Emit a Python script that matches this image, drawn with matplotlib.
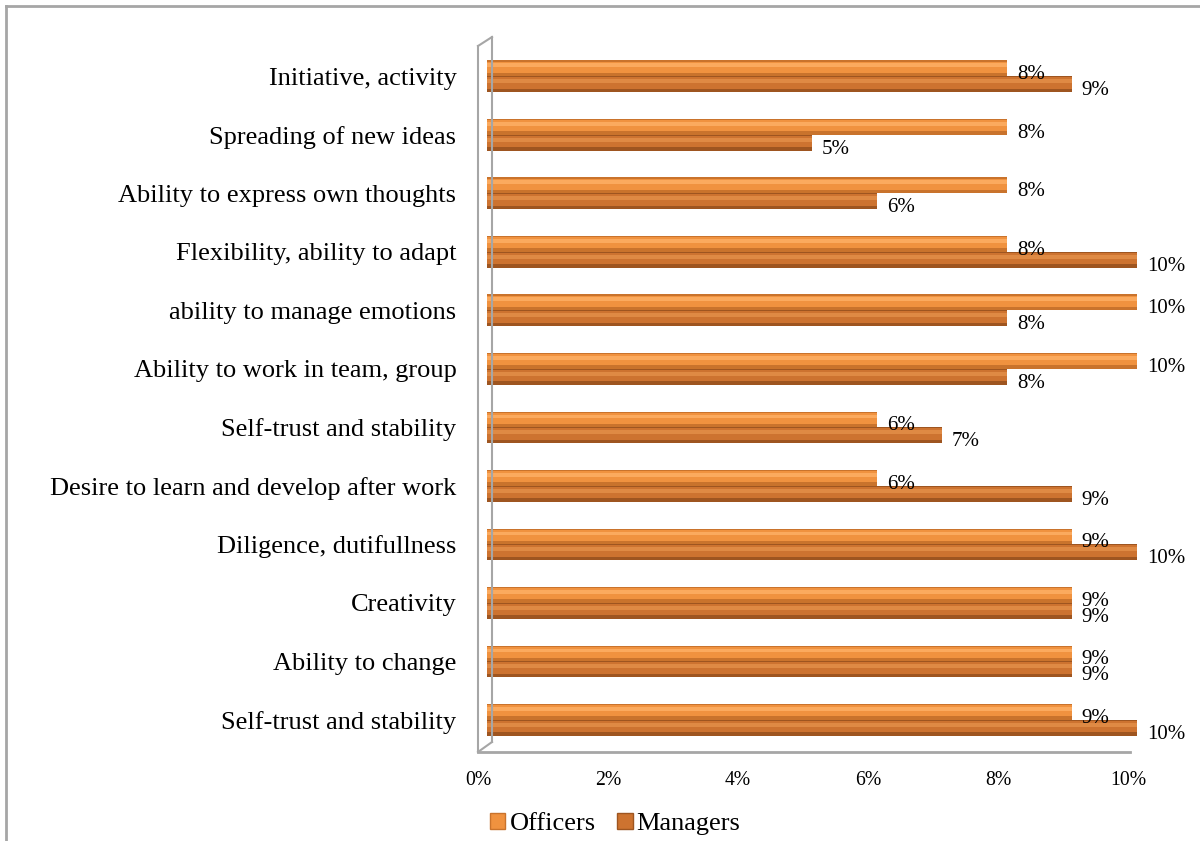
import numpy as np
import matplotlib.pyplot as plt
from matplotlib.patches import Patch
from matplotlib.lines import Line2D
import matplotlib.transforms as mtransforms

plt.rcParams['font.family'] = ['Liberation Serif', 'DejaVu Serif']

categories = ["Initiative, activity", "Spreading of new ideas",
              "Ability to express own thoughts", "Flexibility, ability to adapt",
              "ability to manage emotions", "Ability to work in team, group",
              "Self-trust and stability", "Desire to learn and develop after work",
              "Diligence, dutifullness", "Creativity", "Ability to change",
              "Self-trust and stability"]
officers = [0.08, 0.08, 0.08, 0.08, 0.10, 0.10, 0.06, 0.06, 0.09, 0.09, 0.09, 0.09]
managers = [0.09, 0.05, 0.06, 0.10, 0.08, 0.08, 0.07, 0.09, 0.10, 0.09, 0.09, 0.10]
xticks = [0, 0.02, 0.04, 0.06, 0.08, 0.10]
xtick_labels = ["0%", "2%", "4%", "6%", "8%", "10%"]

fig = plt.figure(figsize=(12, 8.41), dpi=100)
W, H = 1200, 841
# plot area in pixels: left 487, right 1137, top 40, bottom 752
ax = fig.add_axes([487 / W, 1 - 752 / H, 650 / W, 712 / H])

y = np.arange(len(categories))
h = 0.27

# cylinder-ish shading: dark base, mid band, highlight
shades = {
    "Officers": ["#C9732C", "#F0923F", "#FBAA5E"],
    "Managers": ["#9E5520", "#CD7330", "#DF8A44"],
}
for vals, name, off in [(officers, "Officers", -0.135), (managers, "Managers", 0.135)]:
    dark, mid, light = shades[name]
    ax.barh(y + off, vals, height=h, color=dark, zorder=2)
    ax.barh(y + off - 0.02, vals, height=h * 0.72, color=mid, zorder=3)
    ax.barh(y + off - 0.05, vals, height=h * 0.25, color=light, zorder=4)
    for yi, v in zip(y, vals):
        ax.text(v + 0.0015, yi + off + 0.11, f"{v * 100:.0f}%", va="center",
                ha="left", fontsize=15, color="black", zorder=5)

ax.set_xlim(0, 0.10)
ax.set_ylim(11.55, -0.62)
ax.set_yticks(y)
ax.set_yticklabels(categories, fontsize=19)
ax.set_xticks(xticks)
ax.set_xticklabels(xtick_labels, fontsize=14.2)
ax.tick_params(axis="both", length=0)
ax.tick_params(axis="y", pad=22)
ax.tick_params(axis="x", pad=14)
shift = mtransforms.ScaledTranslation(-9 / 100, 0, fig.dpi_scale_trans)
for lab in ax.get_xticklabels():
    lab.set_transform(lab.get_transform() + shift)
for s in ax.spines.values():
    s.set_visible(False)

# 3D wall and floor outline
wall = "#A6A6A6"
ft = fig.transFigure
fig.add_artist(Line2D([478 / W, 478 / W], [1 - 752 / H, 1 - 46 / H], color=wall, lw=1.5, transform=ft))
fig.add_artist(Line2D([478 / W, 492 / W], [1 - 46 / H, 1 - 37 / H], color=wall, lw=1.5, transform=ft))
fig.add_artist(Line2D([492 / W, 492 / W], [1 - 37 / H, 1 - 742 / H], color=wall, lw=1.5, transform=ft))
fig.add_artist(Line2D([478 / W, 492 / W], [1 - 752 / H, 1 - 742 / H], color=wall, lw=1.5, transform=ft))
fig.add_artist(Line2D([478 / W, 1130 / W], [1 - 752 / H, 1 - 752 / H], color=wall, lw=2, transform=ft))

# outer chart border
fig.add_artist(Line2D([6 / W, 1.0], [1 - 6 / H, 1 - 6 / H], color=wall, lw=2, transform=ft))
fig.add_artist(Line2D([6 / W, 6 / W], [0, 1 - 6 / H], color=wall, lw=2, transform=ft))

handles = [Patch(facecolor=shades["Officers"][1], edgecolor=shades["Officers"][0]),
           Patch(facecolor=shades["Managers"][1], edgecolor=shades["Managers"][0])]
fig.legend(handles, ["Officers", "Managers"], loc="center", bbox_to_anchor=(615 / W, 1 - 824 / H),
           ncol=2, frameon=False, fontsize=19, handlelength=0.6, handleheight=0.6,
           handletextpad=0.15, columnspacing=0.8)

fig.savefig("out.png", dpi=100)
